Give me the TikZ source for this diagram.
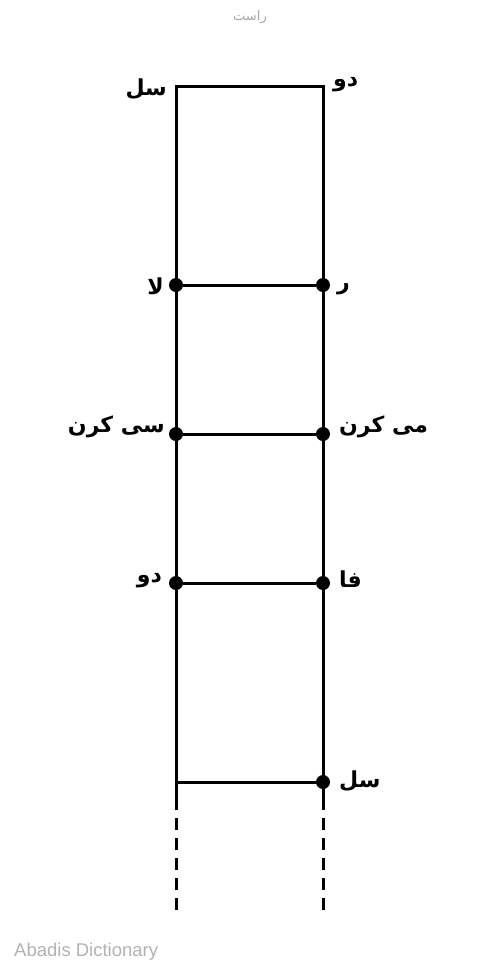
\documentclass[tikz,border=0pt]{standalone}
\usepackage{fontspec}
\TeXXeTstate=1
\newfontfamily\arabicfont[Script=Arabic]{DejaVu Sans}
\setsansfont{Liberation Sans}
\begin{document}
\begin{tikzpicture}[x=1pt,y=-1pt,
  rail/.style={line width=3pt},
  dotnode/.style={circle,fill=black,inner sep=0pt,minimum size=14pt},
  lab/.style={font=\arabicfont\fontsize{22}{24}\selectfont\bfseries,inner sep=1pt},
  dashrail/.style={line width=3pt,dash pattern=on 12pt off 8pt}]
\useasboundingbox (0,0) rectangle (500,970);
% title and watermark
\node[font=\arabicfont\fontsize{13}{14}\selectfont,text=black!35] (title) at (250,17) {\beginR راست\endR};
\node[font=\sffamily\fontsize{18.5}{20}\selectfont,text=black!30,anchor=west,inner sep=0pt] (wm) at (14,952) {Abadis Dictionary};
% rail points
\coordinate (L0) at (176,86);
\coordinate (R0) at (323,86);
\node[dotnode] (L1) at (176,285) {};
\node[dotnode] (R1) at (323,285) {};
\node[dotnode] (L2) at (176,434) {};
\node[dotnode] (R2) at (323,434) {};
\node[dotnode] (L3) at (176,583) {};
\node[dotnode] (R3) at (323,583) {};
\coordinate (L4) at (176,782);
\node[dotnode] (R4) at (323,782) {};
\coordinate (Lend) at (176,810);
\coordinate (Rend) at (323,810);
\coordinate (Lds) at (176,818);
\coordinate (Rds) at (323,818);
\coordinate (Lde) at (176,914);
\coordinate (Rde) at (323,914);
% rails
\draw[rail,line join=miter] (Lend) -- (L0) -- (R0) -- (Rend);
\draw[rail] (L1) -- (R1);
\draw[rail] (L2) -- (R2);
\draw[rail] (L3) -- (R3);
\draw[rail] (L4) -- (R4.center);
\draw[dashrail] (Lds) -- (Lde);
\draw[dashrail] (Rds) -- (Rde);
% labels
\node[lab,anchor=east] (tl) at (168,89) {\beginR سل\endR};
\node[lab,anchor=west] (tr) at (332,85) {\beginR دو\endR};
\node[lab,anchor=east] (l1) at (165,286) {\beginR لا\endR};
\node[lab,anchor=west] (r1) at (336,289) {\beginR ر\endR};
\node[lab,anchor=east] (l2) at (166,427) {\beginR سی کرن\endR};
\node[lab,anchor=west] (r2) at (338,427) {\beginR می کرن\endR};
\node[lab,anchor=east] (l3) at (163,581) {\beginR دو\endR};
\node[lab,anchor=west] (r3) at (338,579) {\beginR فا\endR};
\node[lab,anchor=west] (r4) at (338,781) {\beginR سل\endR};
\end{tikzpicture}
\end{document}
